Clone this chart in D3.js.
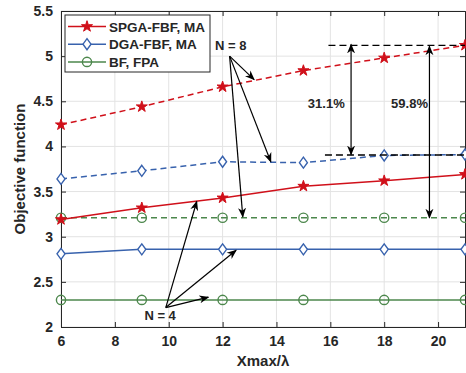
<!DOCTYPE html>
<html>
<head>
<meta charset="utf-8">
<script src="https://cdn.jsdelivr.net/npm/d3@7"></script>
<style>
  body { margin: 0; background: #fff; }
  text { font-family: "Liberation Sans", Arial, sans-serif; font-weight: bold; fill: #262626; }
</style>
</head>
<body>
<div id="main"></div>
<script>
const xVals = [6, 9, 12, 15, 18, 21];
const spgaN8 = [4.24, 4.44, 4.66, 4.84, 4.98, 5.12];
const dgaN8  = [3.64, 3.73, 3.83, 3.82, 3.90, 3.91];
const bfN8   = [3.21, 3.21, 3.21, 3.21, 3.21, 3.21];
const spgaN4 = [3.19, 3.32, 3.43, 3.56, 3.62, 3.69];
const dgaN4  = [2.81, 2.86, 2.86, 2.86, 2.86, 2.86];
const bfN4   = [2.30, 2.30, 2.30, 2.30, 2.30, 2.30];
const xTicks = [6, 8, 10, 12, 14, 16, 18, 20];
const yTicks = [2, 2.5, 3, 3.5, 4, 4.5, 5, 5.5];
const legendLabels = ["SPGA-FBF, MA", "DGA-FBF, MA", "BF, FPA"];

const ctx = { w: 466, h: 373 };
const m = { left: 61, top: 11, right: 1, bottom: 46 };

const colors = { red: "#d0101a", blue: "#3862ad", green: "#4c874c" };

function drawMarker(g, type, x, y, color) {
    if (type === "star") {
        g.append("path")
            .attr("d", d3.symbol(d3.symbolStar, 38)())
            .attr("transform", `translate(${x},${y})`)
            .attr("fill", color).attr("stroke", color).attr("stroke-width", 1);
    } else if (type === "diamond") {
        g.append("path")
            .attr("d", `M0,-5.5L4,0L0,5.5L-4,0Z`)
            .attr("transform", `translate(${x},${y})`)
            .attr("fill", "#fff").attr("stroke", color).attr("stroke-width", 1.4);
    } else {
        g.append("circle")
            .attr("cx", x).attr("cy", y).attr("r", 4.6)
            .attr("fill", "none").attr("stroke", color).attr("stroke-width", 1.4);
    }
}

function createChart(svgEl) {
    const x = d3.scaleLinear().domain([6, 21]).range([m.left, ctx.w - m.right]);
    const y = d3.scaleLinear().domain([2, 5.5]).range([ctx.h - m.bottom, m.top]);

    // grid
    const grid = svgEl.append("g");
    grid.selectAll(".gx").data(xTicks).enter().append("line")
        .attr("x1", d => x(d)).attr("x2", d => x(d))
        .attr("y1", y(2)).attr("y2", y(5.5))
        .attr("stroke", "#e3e3e3").attr("stroke-width", 1);
    grid.selectAll(".gy").data(yTicks).enter().append("line")
        .attr("x1", x(6)).attr("x2", x(21))
        .attr("y1", d => y(d)).attr("y2", d => y(d))
        .attr("stroke", "#e3e3e3").attr("stroke-width", 1);

    // axes
    const xAxis = d3.axisBottom(x).tickValues(xTicks).tickSize(-5).tickPadding(9);
    const yAxis = d3.axisLeft(y).tickValues(yTicks).tickSize(-5).tickPadding(8)
        .tickFormat(d => d3.format("")(d));
    const gx = svgEl.append("g").attr("transform", `translate(0,${y(2)})`).call(xAxis);
    const gy = svgEl.append("g").attr("transform", `translate(${x(6)},0)`).call(yAxis);
    const gx2 = svgEl.append("g").attr("transform", `translate(0,${y(5.5)})`)
        .call(d3.axisTop(x).tickValues(xTicks).tickSize(-5).tickFormat(""));
    const gy2 = svgEl.append("g").attr("transform", `translate(${x(21)},0)`)
        .call(d3.axisRight(y).tickValues(yTicks).tickSize(-5).tickFormat(""));
    [gx, gy, gx2, gy2].forEach(g => {
        g.select(".domain").attr("stroke", "#262626").attr("stroke-width", 1);
        g.selectAll(".tick line").attr("stroke", "#262626");
        g.selectAll(".tick text").style("font-family", "Liberation Sans, Arial, sans-serif")
            .style("font-weight", "bold").style("font-size", "14px").attr("fill", "#262626");
    });

    // series
    const series = [
        { v: spgaN8, color: colors.red, mk: "star", dash: "6,4" },
        { v: dgaN8, color: colors.blue, mk: "diamond", dash: "6,4" },
        { v: bfN8, color: colors.green, mk: "circle", dash: "6,4" },
        { v: spgaN4, color: colors.red, mk: "star", dash: null },
        { v: dgaN4, color: colors.blue, mk: "diamond", dash: null },
        { v: bfN4, color: colors.green, mk: "circle", dash: null },
    ];
    const line = d3.line().x((d, i) => x(xVals[i])).y(d => y(d));
    const gS = svgEl.append("g");
    series.forEach(s => {
        gS.append("path").attr("d", line(s.v))
            .attr("fill", "none").attr("stroke", s.color).attr("stroke-width", 1.5)
            .attr("stroke-dasharray", s.dash);
        s.v.forEach((d, i) => drawMarker(gS, s.mk, x(xVals[i]), y(d), s.color));
    });

    // arrow heads
    const defs = svgEl.append("defs");
    defs.append("marker").attr("id", "ah")
        .attr("viewBox", "0 0 10 10").attr("refX", 9).attr("refY", 5)
        .attr("markerWidth", 10).attr("markerHeight", 10).attr("orient", "auto-start-reverse")
        .attr("markerUnits", "userSpaceOnUse")
        .append("path").attr("d", "M0,1 L10,5 L0,9 L3,5 Z").attr("fill", "#000");

    const ann = svgEl.append("g");
    const arrow = (x1, y1, x2, y2, both) => ann.append("line")
        .attr("x1", x(x1)).attr("y1", y(y1)).attr("x2", x(x2)).attr("y2", y(y2))
        .attr("stroke", "#000").attr("stroke-width", 1.2)
        .attr("marker-end", "url(#ah)")
        .attr("marker-start", both ? "url(#ah)" : null);

    // N = 8 arrows
    ann.append("text").attr("x", x(12.3)).attr("y", y(5.07)).attr("text-anchor", "middle")
        .style("font-size", "13px").attr("fill", "#000").text("N = 8");
    arrow(12.26, 5.0, 13.17, 4.74);
    arrow(12.26, 5.0, 13.79, 3.83);
    arrow(12.26, 5.0, 12.75, 3.22);

    // N = 4 arrows
    ann.append("text").attr("x", x(9.68)).attr("y", y(2.08)).attr("text-anchor", "middle")
        .style("font-size", "13px").attr("fill", "#000").text("N = 4");
    arrow(9.89, 2.215, 11.04, 3.39);
    arrow(9.89, 2.215, 12.5, 2.85);
    arrow(9.89, 2.215, 11.47, 2.33);

    // dashed reference lines
    [[15.93, 5.12], [15.8, 3.905]].forEach(d => {
        ann.append("line").attr("x1", x(d[0])).attr("x2", x(21))
            .attr("y1", y(d[1])).attr("y2", y(d[1]))
            .attr("stroke", "#000").attr("stroke-width", 1.3).attr("stroke-dasharray", "7,4");
    });

    // gain arrows
    arrow(16.77, 3.91, 16.77, 5.13, true);
    arrow(19.68, 3.21, 19.68, 5.11, true);
    ann.append("text").attr("x", x(15.85)).attr("y", y(4.43)).attr("text-anchor", "middle")
        .style("font-size", "13px").attr("fill", "#000").text("31.1%");
    ann.append("text").attr("x", x(18.94)).attr("y", y(4.43)).attr("text-anchor", "middle")
        .style("font-size", "13px").attr("fill", "#000").text("59.8%");

    // axis labels
    svgEl.append("text").attr("x", (x(6) + x(21)) / 2).attr("y", 366)
        .attr("text-anchor", "middle").style("font-size", "15px").text("Xmax/\u03bb");
    svgEl.append("text").attr("transform", `translate(25,${(y(2) + y(5.5)) / 2}) rotate(-90)`)
        .attr("text-anchor", "middle").style("font-size", "15px").text("Objective function");

    // legend
    const lg = svgEl.append("g").attr("transform", "translate(65,15)");
    lg.append("rect").attr("width", 145).attr("height", 57)
        .attr("fill", "#fff").attr("stroke", "#262626").attr("stroke-width", 1);
    const lgItems = [
        { label: legendLabels[0], color: colors.red, mk: "star" },
        { label: legendLabels[1], color: colors.blue, mk: "diamond" },
        { label: legendLabels[2], color: colors.green, mk: "circle" },
    ];
    lgItems.forEach((it, i) => {
        const cy = 11.5 + i * 17.7;
        lg.append("line").attr("x1", 3).attr("x2", 41).attr("y1", cy).attr("y2", cy)
            .attr("stroke", it.color).attr("stroke-width", 1.5);
        drawMarker(lg, it.mk, 22, cy, it.color);
        lg.append("text").attr("x", 44).attr("y", cy + 5)
            .style("font-size", "13.5px").attr("fill", "#000").text(it.label);
    });
}

function createViz() {
    const svgEl = d3.select("#main").append("svg")
        .attr("width", ctx.w)
        .attr("height", ctx.h);
    createChart(svgEl);
}
createViz();
</script>
</body>
</html>
